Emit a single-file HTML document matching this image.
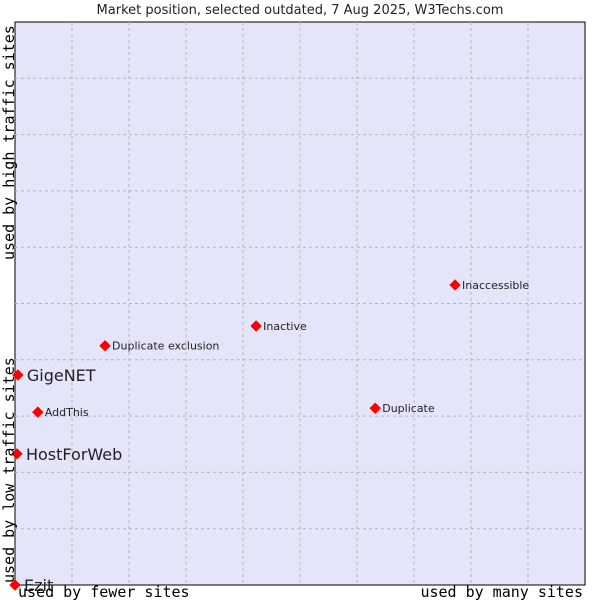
<!DOCTYPE html>
<html><head><meta charset="utf-8"><style>
body{margin:0;background:#fff}
svg{display:block}
</style></head><body>
<svg id="chart" width="600" height="600" xmlns="http://www.w3.org/2000/svg">
<text x="300" y="14" text-anchor="middle" font-family="DejaVu Sans, sans-serif" font-size="13" fill="#222">Market position, selected outdated, 7 Aug 2025, W3Techs.com</text>
<rect x="15" y="22" width="570" height="563" fill="#e4e5f8" stroke="#000" stroke-width="1"/>
<g id="grid"></g>
<g id="points"></g>
<text x="18" y="597" font-family="DejaVu Sans Mono, monospace" font-size="15" fill="#000">used by fewer sites</text>
<text x="583" y="597" text-anchor="end" font-family="DejaVu Sans Mono, monospace" font-size="15" fill="#000">used by many sites</text>
<text transform="translate(14,583) rotate(-90)" font-family="DejaVu Sans Mono, monospace" font-size="15" fill="#000">used by low traffic sites</text>
<text transform="translate(14,260) rotate(-90)" font-family="DejaVu Sans Mono, monospace" font-size="15" fill="#000">used by high traffic sites</text>
</svg>
<script>
const names=["Ezit","HostForWeb","GigeNET","AddThis","Duplicate exclusion","Inactive","Duplicate","Inaccessible"];
const xVals=[0,0.35,0.5,4.0,15.8,42.3,63.2,77.2];
const yVals=[0,23.3,37.3,30.7,42.5,46.0,31.4,53.3];
const big=[true,true,true,false,false,false,false,false];
const NS="http://www.w3.org/2000/svg";
const X0=15,X1=585,Y0=585,Y1=22;
function sx(v){return X0+v/100*(X1-X0);}
function sy(v){return Y0-v/100*(Y0-Y1);}
const grid=document.getElementById('grid');
for(let i=1;i<10;i++){
  const gx=document.createElementNS(NS,'line');
  
  
  gx.setAttribute('x1',sx(i*10));gx.setAttribute('x2',sx(i*10));gx.setAttribute('y1',Y1);gx.setAttribute('y2',Y0);
  gx.setAttribute('stroke','#b8b8b8');gx.setAttribute('stroke-dasharray','3,3');
  grid.appendChild(gx);
  const gy=document.createElementNS(NS,'line');
  
  
  gy.setAttribute('y1',sy(i*10));gy.setAttribute('y2',sy(i*10));gy.setAttribute('x1',X0);gy.setAttribute('x2',X1);
  gy.setAttribute('stroke','#b8b8b8');gy.setAttribute('stroke-dasharray','3,3');
  grid.appendChild(gy);
}
const pts=document.getElementById('points');
names.forEach((n,i)=>{
  const cx=sx(xVals[i]),cy=sy(yVals[i]);
  const d=document.createElementNS(NS,'path');
  
  
  d.setAttribute('d',`M${cx-5},${cy} L${cx},${cy-5} L${cx+5},${cy} L${cx},${cy+5} Z`);
  d.setAttribute('fill','#ff0000');
  d.setAttribute('stroke','#ff0000');
  d.setAttribute('stroke-width','1');
  d.setAttribute('stroke-linejoin','round');
  pts.appendChild(d);
  const t=document.createElementNS(NS,'text');
  
  
  t.setAttribute('x',cx+(big[i]?9:7));
  t.setAttribute('y',cy+(big[i]?6:4));
  t.setAttribute('font-family','DejaVu Sans, sans-serif');
  t.setAttribute('font-size',big[i]?'16':'11');
  t.setAttribute('fill','#222');
  t.textContent=n;
  pts.appendChild(t);
});
</script>
</body></html>
